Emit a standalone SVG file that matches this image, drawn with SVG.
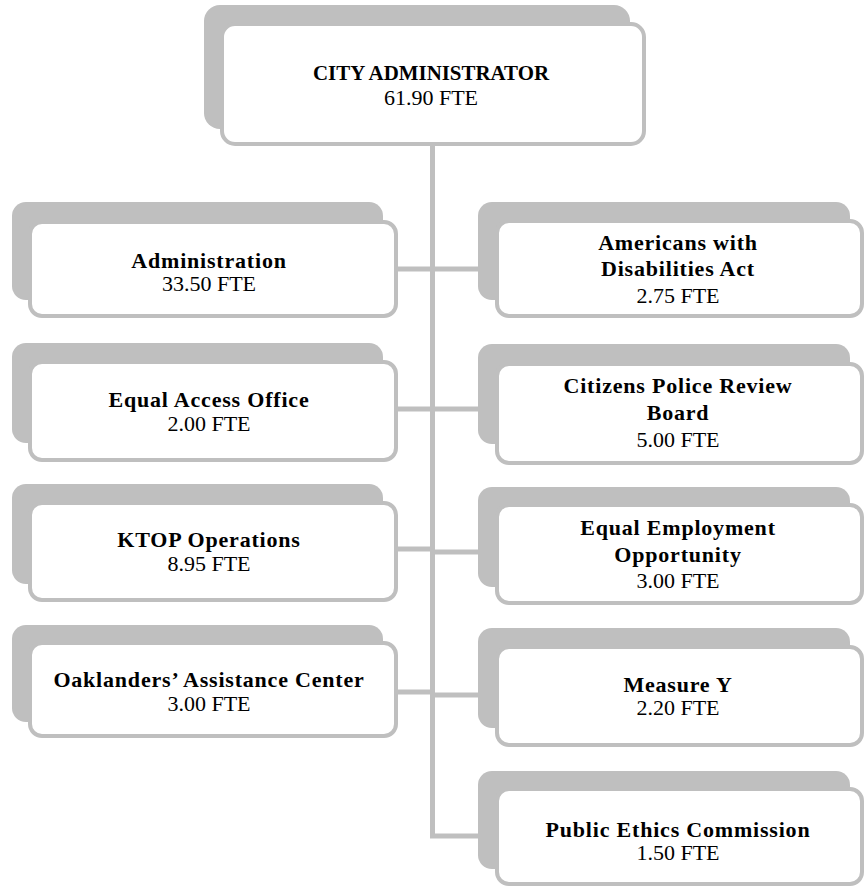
<svg xmlns="http://www.w3.org/2000/svg" width="865" height="890" viewBox="0 0 865 890">
<style>
.sh{fill:#bfbfbf;}
.bx{fill:#ffffff;stroke:#bfbfbf;stroke-width:4;}
.ln{fill:none;stroke:#bfbfbf;stroke-width:5;}
.t{font-family:"Liberation Serif","Times New Roman",serif;font-size:22px;font-weight:bold;letter-spacing:0.8px;fill:#000;text-anchor:middle;}
.s{font-family:"Liberation Serif","Times New Roman",serif;font-size:22px;fill:#000;text-anchor:middle;}
</style>
<rect width="865" height="890" fill="#ffffff"/>
<g id="connectors">
<path class="ln" d="M432.5,146 V836 H478"/>
<path class="ln" d="M398,269 H432.5 M398,409 H432.5 M398,549 H432.5 M398,692 H432.5"/>
<path class="ln" d="M432.5,269 H478 M432.5,409 H478 M432.5,552 H478 M432.5,695 H478"/>
</g>
<g id="city-administrator">
<rect class="sh" x="204" y="5" width="426" height="124" rx="16"/>
<rect class="bx" x="222" y="24" width="422" height="120" rx="13"/>
<text class="t" x="431" y="80" textLength="236" lengthAdjust="spacingAndGlyphs" style="letter-spacing:0">CITY ADMINISTRATOR</text>
<text class="s" x="431" y="105">61.90 FTE</text>
</g>
<g id="administration">
<rect class="sh" x="12" y="202" width="371" height="98" rx="14"/>
<rect class="bx" x="30" y="222" width="366" height="94" rx="12"/>
<text class="t" x="209" y="268">Administration</text>
<text class="s" x="209" y="291">33.50 FTE</text>
</g>
<g id="equal-access-office">
<rect class="sh" x="12" y="343" width="371" height="100" rx="14"/>
<rect class="bx" x="30" y="362" width="366" height="98" rx="12"/>
<text class="t" x="209" y="407">Equal Access Office</text>
<text class="s" x="209" y="431">2.00 FTE</text>
</g>
<g id="ktop-operations">
<rect class="sh" x="12" y="484" width="371" height="100" rx="14"/>
<rect class="bx" x="30" y="503" width="366" height="97" rx="12"/>
<text class="t" x="209" y="547">KTOP Operations</text>
<text class="s" x="209" y="571">8.95 FTE</text>
</g>
<g id="oaklanders-assistance-center">
<rect class="sh" x="12" y="625" width="371" height="97" rx="14"/>
<rect class="bx" x="30" y="643" width="366" height="93" rx="12"/>
<text class="t" x="209" y="687">Oaklanders’ Assistance Center</text>
<text class="s" x="209" y="711">3.00 FTE</text>
</g>
<g id="americans-with-disabilities-act">
<rect class="sh" x="478" y="202" width="372" height="98" rx="14"/>
<rect class="bx" x="497" y="221" width="365" height="95" rx="12"/>
<text class="t" x="678" y="250">Americans with</text>
<text class="t" x="678" y="276">Disabilities Act</text>
<text class="s" x="678" y="303">2.75 FTE</text>
</g>
<g id="citizens-police-review-board">
<rect class="sh" x="478" y="344" width="372" height="100" rx="14"/>
<rect class="bx" x="497" y="364" width="365" height="99" rx="12"/>
<text class="t" x="678" y="393">Citizens Police Review</text>
<text class="t" x="678" y="420">Board</text>
<text class="s" x="678" y="447">5.00 FTE</text>
</g>
<g id="equal-employment-opportunity">
<rect class="sh" x="478" y="487" width="372" height="100" rx="14"/>
<rect class="bx" x="497" y="505" width="365" height="98" rx="12"/>
<text class="t" x="678" y="535">Equal Employment</text>
<text class="t" x="678" y="562">Opportunity</text>
<text class="s" x="678" y="588">3.00 FTE</text>
</g>
<g id="measure-y">
<rect class="sh" x="478" y="628" width="372" height="100" rx="14"/>
<rect class="bx" x="497" y="647" width="365" height="98" rx="12"/>
<text class="t" x="678" y="692">Measure Y</text>
<text class="s" x="678" y="715">2.20 FTE</text>
</g>
<g id="public-ethics-commission">
<rect class="sh" x="478" y="771" width="372" height="98" rx="14"/>
<rect class="bx" x="497" y="789" width="365" height="95" rx="12"/>
<text class="t" x="678" y="837">Public Ethics Commission</text>
<text class="s" x="678" y="860">1.50 FTE</text>
</g>
</svg>
